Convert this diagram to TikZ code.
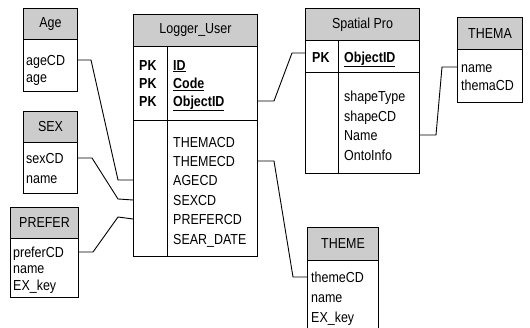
\documentclass[tikz,border=0pt]{standalone}
\usepackage{fontspec}
\setmainfont{Liberation Sans}[FakeStretch=0.86]
\begin{document}
\begin{tikzpicture}[x=1pt,y=-1pt,
  hdr/.style={draw, line width=1pt, fill=gray!40, inner sep=0pt, anchor=north west, font=\fontsize{14.5}{16}\selectfont},
  bodybox/.style={draw, line width=1pt, fill=white, inner sep=0pt, anchor=north west},
  row/.style={anchor=west, inner sep=0pt, text height=10.4pt, text depth=0pt, font=\fontsize{14.5}{16}\selectfont},
  keyrow/.style={row, font=\fontsize{14.5}{16}\selectfont\bfseries},
  sep/.style={line width=0.9pt},
  link/.style={line width=0.9pt}]
\useasboundingbox (0,0) rectangle (530,328);

% ---------- Age ----------
\node[bodybox, minimum width=54pt, minimum height=52pt] (ageb) at (23,39) {};
\node[hdr, minimum width=54pt, minimum height=31pt] (ageh) at (23,8) {Age};
\node[row] (agecd) at (26,60) {ageCD};
\node[row] (agename) at (26,77) {age};

% ---------- SEX ----------
\node[bodybox, minimum width=54pt, minimum height=51pt] (sexb) at (23,142) {};
\node[hdr, minimum width=54pt, minimum height=31pt] (sexh) at (23,111) {SEX};
\node[row] (sexcd) at (26,158) {sexCD};
\node[row] (sexname) at (26,178) {name};

% ---------- PREFER ----------
\node[bodybox, minimum width=68pt, minimum height=59pt] (prefb) at (10,238) {};
\node[hdr, minimum width=68pt, minimum height=31pt] (prefh) at (10,207) {PREFER};
\node[row] (prefcd) at (13,252) {preferCD};
\node[row] (prefname) at (13,268) {name};
\node[row] (prefkey) at (13,285) {EX\_key};

% ---------- Logger_User ----------
\node[bodybox, minimum width=124pt, minimum height=210pt] (logb) at (133,46) {};
\node[hdr, minimum width=124pt, minimum height=32pt] (logh) at (133,14) {Logger\_User};
\draw[sep] (133,120) -- (257,120);
\draw[sep] (167,46) -- (167,256);
\node[keyrow] (pk1) at (139,65) {PK};
\node[keyrow] (pk2) at (139,83) {PK};
\node[keyrow] (pk3) at (139,101) {PK};
\node[keyrow] (lid) at (173,65) {\underline{ID}};
\node[keyrow] (lcode) at (173,83) {\underline{Code}};
\node[keyrow] (lobj) at (173,101) {\underline{ObjectID}};
\node[row] (lthema) at (173,142) {THEMACD};
\node[row] (ltheme) at (173,161) {THEMECD};
\node[row] (lage) at (173,180) {AGECD};
\node[row] (lsex) at (173,200) {SEXCD};
\node[row] (lpref) at (173,219) {PREFERCD};
\node[row] (lsear) at (173,239) {SEAR\_DATE};

% ---------- Spatial Pro ----------
\node[bodybox, minimum width=114pt, minimum height=133pt] (spb) at (305,40) {};
\node[hdr, minimum width=114pt, minimum height=32pt] (sph) at (305,8) {Spatial Pro};
\draw[sep] (305,72) -- (419,72);
\draw[sep] (338,40) -- (338,173);
\node[keyrow] (spk) at (312,57) {PK};
\node[keyrow] (sobj) at (344,57) {\underline{ObjectID}};
\node[row] (stype) at (344,96) {shapeType};
\node[row] (scd) at (344,116) {shapeCD};
\node[row] (sname) at (344,135) {Name};
\node[row] (sonto) at (344,155) {OntoInfo};

% ---------- THEMA ----------
\node[bodybox, minimum width=65pt, minimum height=53pt] (thab) at (457,49) {};
\node[hdr, minimum width=65pt, minimum height=32pt] (thah) at (457,17) {THEMA};
\node[row] (thaname) at (461,67) {name};
\node[row] (thacd) at (461,85) {themaCD};

% ---------- THEME ----------
\node[bodybox, minimum width=71pt, minimum height=72pt] (theb) at (307,260) {};
\node[hdr, minimum width=71pt, minimum height=33pt] (theh) at (307,227) {THEME};
\node[row] (thecd) at (311,277) {themeCD};
\node[row] (thename) at (311,297) {name};
\node[row] (thekey) at (311,317) {EX\_key};

% ---------- connectors ----------
\draw[link] (ageb.east |- agecd) -- ++(13,0) -- (118,180) -- (logb.west |- lage);
\draw[link] (sexb.east |- sexcd) -- ++(14,0) -- (118,199) -- (logb.west |- lsex);
\draw[link] (prefb.east |- prefcd) -- ++(14,0) -- (118,217) -- (logb.west |- lpref);
\draw[link] (logb.east |- lobj) -- ++(16,0) -- (292,53) -- (spb.west |- 0,53);
\draw[link] (logb.east |- ltheme) -- ++(16,0) -- (293,277) -- (theb.west |- thecd);
\draw[link] (spb.east |- sname) -- ++(16,0) -- (442,67) -- (thab.west |- thaname);
\end{tikzpicture}
\end{document}
